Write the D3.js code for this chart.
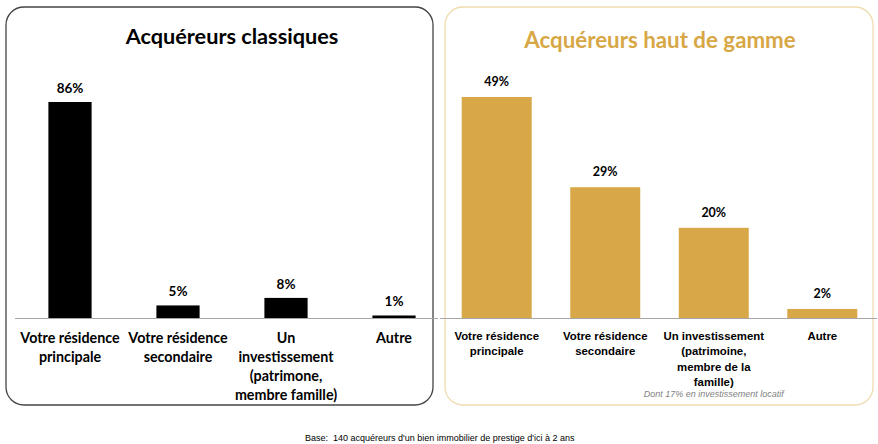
<!DOCTYPE html>
<html>
<head>
<meta charset="utf-8">
<script src="https://cdn.jsdelivr.net/npm/d3@7"></script>
<style>
  body { margin: 0; background: #fff; }
  svg { display: block; }
</style>
</head>
<body>
<div id="chart"></div>
<script>
'use strict';

// données
var keys = ["principale", "secondaire", "investissement", "autre"];
var labelsClassiques = [
    ["Votre résidence", "principale"],
    ["Votre résidence", "secondaire"],
    ["Un", "investissement", "(patrimone,", "membre famille)"],
    ["Autre"]
];
var valuesClassiques = [86, 5, 8, 1];
var labelsHautDeGamme = [
    ["Votre résidence", "principale"],
    ["Votre résidence", "secondaire"],
    ["Un investissement", "(patrimoine,", "membre de la", "famille)"],
    ["Autre"]
];
var valuesHautDeGamme = [49, 29, 20, 2];
var titleClassiques = "Acquéreurs classiques";
var titleHautDeGamme = "Acquéreurs haut de gamme";
var noteHautDeGamme = "Dont 17% en investissement locatif";
var footnote = "Base:  140 acquéreurs d'un bien immobilier de prestige d'ici à 2 ans";

var width = 878, height = 444;
var gold = "#d8a848";

var svg = d3.select("#chart").append("svg")
    .attr("width", width)
    .attr("height", height);

function panel(opt) {
    var g = svg.append("g");

    // cadre arrondi
    g.append("rect")
        .attr("x", opt.box[0])
        .attr("y", 7)
        .attr("width", opt.box[1] - opt.box[0])
        .attr("height", 398)
        .attr("rx", 18)
        .attr("ry", 18)
        .style("fill", "none")
        .style("stroke", opt.boxColor)
        .style("stroke-width", 1.3);

    g.append("text")
        .text(opt.title)
        .attr("x", opt.titleX)
        .attr("y", opt.titleY)
        .attr("text-anchor", "middle")
        .style("font-family", "Lato, sans-serif")
        .style("font-weight", "bold")
        .style("font-size", opt.titleSize + "px")
        .style("fill", opt.titleColor);

    var x = d3.scaleBand()
        .domain(keys)
        .range(opt.range)
        .paddingInner(opt.padIn)
        .paddingOuter(opt.padOut);

    var y = d3.scaleLinear()
        .domain([0, opt.max])
        .range([318, 318 - opt.maxPx]);

    var data = keys.map(function (k, i) {
        return { key: k, value: opt.values[i], label: opt.labels[i] };
    });

    g.selectAll("rect.bar")
        .data(data)
        .enter().append("rect")
        .attr("class", "bar")
        .attr("x", d => x(d.key))
        .attr("y", d => y(d.value))
        .attr("width", x.bandwidth())
        .attr("height", d => y(0) - y(d.value))
        .style("fill", opt.barColor);

    // ligne de base
    g.append("line")
        .attr("x1", opt.axis[0])
        .attr("x2", opt.axis[1])
        .attr("y1", y(0) + 0.5)
        .attr("y2", y(0) + 0.5)
        .style("stroke", "#a6a6a6")
        .style("stroke-width", 1);

    g.selectAll("text.val")
        .data(data)
        .enter().append("text")
        .attr("class", "val")
        .attr("x", d => x(d.key) + x.bandwidth() / 2)
        .attr("y", d => y(d.value) - opt.valGap)
        .attr("text-anchor", "middle")
        .style("font-family", "Lato, sans-serif")
        .style("font-weight", "bold")
        .style("font-size", opt.valSize + "px")
        .style("fill", "#000")
        .text(d => d.value + "%");

    var lab = g.selectAll("text.cat")
        .data(data)
        .enter().append("text")
        .attr("class", "cat")
        .attr("x", d => x(d.key) + x.bandwidth() / 2)
        .attr("y", opt.labY)
        .attr("text-anchor", "middle")
        .style("font-family", opt.labFont)
        .style("font-weight", "bold")
        .style("font-size", opt.labSize + "px")
        .style("fill", "#000");

    lab.selectAll("tspan")
        .data(d => d.label)
        .enter().append("tspan")
        .attr("x", function () { return d3.select(this.parentNode).attr("x"); })
        .attr("dy", (d, i) => i === 0 ? 0 : opt.labLine)
        .text(d => d);

    return { g: g, x: x };
}

panel({
    box: [6, 433], boxColor: "#444",
    title: titleClassiques, titleX: 232, titleY: 44, titleSize: 21.7, titleColor: "#000",
    range: [16, 448], padIn: 0.6, padOut: 0.3,
    values: valuesClassiques, labels: labelsClassiques,
    max: 86, maxPx: 216, barColor: "#000",
    axis: [15, 438],
    valGap: 9, valSize: 13.5,
    labFont: "Lato, sans-serif", labSize: 14.3, labY: 343, labLine: 19
});

var right = panel({
    box: [445, 873], boxColor: "#efdcb0",
    title: titleHautDeGamme, titleX: 660, titleY: 48, titleSize: 22.3, titleColor: "#d7a746",
    range: [440, 879], padIn: 0.355, padOut: 0.2,
    values: valuesHautDeGamme, labels: labelsHautDeGamme,
    max: 49, maxPx: 221, barColor: gold,
    axis: [440, 877],
    valGap: 11, valSize: 12.5,
    labFont: "'Liberation Sans', Arial, sans-serif", labSize: 11.4, labY: 340, labLine: 15.3
});

right.g.append("text")
    .attr("x", right.x("investissement") + right.x.bandwidth() / 2)
    .attr("y", 397)
    .attr("text-anchor", "middle")
    .style("font-family", "'Liberation Sans', Arial, sans-serif")
    .style("font-style", "italic")
    .style("font-size", "9px")
    .style("fill", "#7f7f7f")
    .text(noteHautDeGamme);

svg.append("text")
    .attr("x", 305)
    .attr("y", 441)
    .style("font-family", "'Liberation Sans', Arial, sans-serif")
    .style("font-size", "9px")
    .style("white-space", "pre")
    .style("fill", "#000")
    .text(footnote);
</script>
</body>
</html>
